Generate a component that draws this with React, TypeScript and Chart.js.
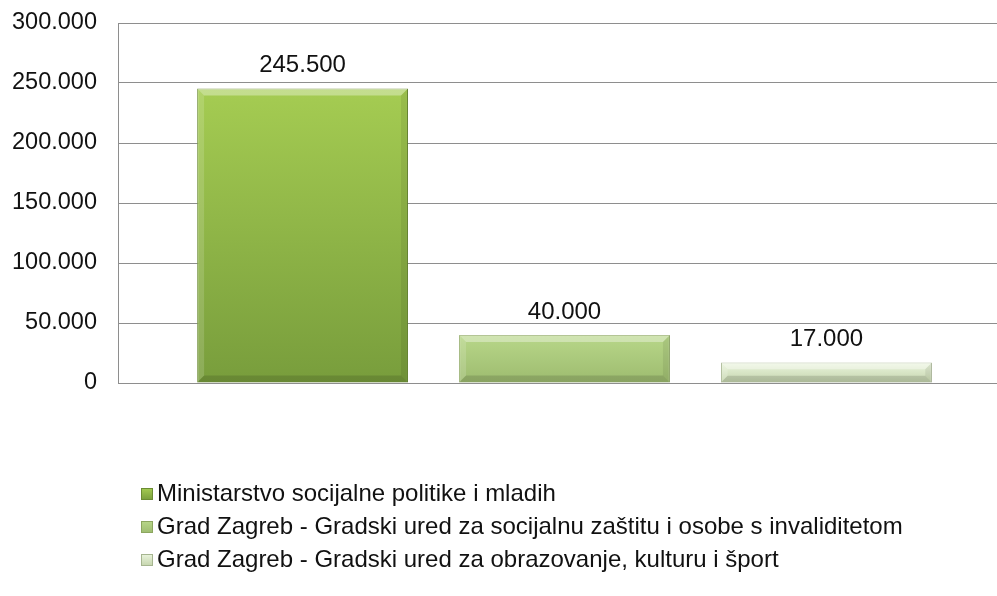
import React, { useEffect, useRef } from "react";
import { Chart, registerables } from "chart.js";

Chart.register(...registerables);

const categories = [""];
const seriesLabels = [
  "Ministarstvo socijalne politike i mladih",
  "Grad Zagreb - Gradski ured za socijalnu zaštitu i osobe s invaliditetom",
  "Grad Zagreb - Gradski ured za obrazovanje, kulturu i šport",
];
const seriesValues = [245500, 40000, 17000];
const yMin = 0;
const yMax = 300000;
const yStep = 50000;

const topColors = ["#a5cc52", "#b8d789", "#ebf5de"];
const bottomColors = ["#789d3c", "#9dbb6f", "#c4d4ac"];
const borderColors = ["#6b8c34", "#8ca65f", "#a6b590"];

const FONT = '"Liberation Sans", Arial, sans-serif';

function fmt(v: number): string {
  const s = Math.round(v).toString();
  return s.replace(/\B(?=(\d{3})+(?!\d))/g, ".");
}

function makeGradient(ctx: CanvasRenderingContext2D, top: number, bottom: number, i: number) {
  const g = ctx.createLinearGradient(0, top, 0, bottom);
  g.addColorStop(0, topColors[i]);
  g.addColorStop(1, bottomColors[i]);
  return g;
}

const bevelPlugin = {
  id: "bevelAndLabels",
  afterDatasetsDraw(chart: any) {
    const ctx: CanvasRenderingContext2D = chart.ctx;
    chart.data.datasets.forEach((ds: any, di: number) => {
      const meta = chart.getDatasetMeta(di);
      meta.data.forEach((el: any, idx: number) => {
        const { x, y, base, width } = el.getProps(["x", "y", "base", "width"], true);
        const left = x - width / 2;
        const right = x + width / 2;
        const top = Math.min(y, base);
        const bottom = Math.max(y, base);
        const h = bottom - top;
        const b = Math.min(7, h / 3);
        ctx.save();
        ctx.fillStyle = "rgba(255,255,255,0.35)";
        ctx.beginPath();
        ctx.moveTo(left, top);
        ctx.lineTo(right, top);
        ctx.lineTo(right - b, top + b);
        ctx.lineTo(left + b, top + b);
        ctx.closePath();
        ctx.fill();
        ctx.fillStyle = "rgba(255,255,255,0.15)";
        ctx.beginPath();
        ctx.moveTo(left, top);
        ctx.lineTo(left + b, top + b);
        ctx.lineTo(left + b, bottom - b);
        ctx.lineTo(left, bottom);
        ctx.closePath();
        ctx.fill();
        ctx.fillStyle = "rgba(0,0,0,0.07)";
        ctx.beginPath();
        ctx.moveTo(right, top);
        ctx.lineTo(right - b, top + b);
        ctx.lineTo(right - b, bottom - b);
        ctx.lineTo(right, bottom);
        ctx.closePath();
        ctx.fill();
        ctx.fillStyle = "rgba(0,0,0,0.13)";
        ctx.beginPath();
        ctx.moveTo(left, bottom);
        ctx.lineTo(right, bottom);
        ctx.lineTo(right - b, bottom - b);
        ctx.lineTo(left + b, bottom - b);
        ctx.closePath();
        ctx.fill();
        const v = ds.data[idx];
        ctx.fillStyle = "#111";
        ctx.font = `24px ${FONT}`;
        ctx.textAlign = "center";
        ctx.textBaseline = "middle";
        ctx.fillText(fmt(v), x, top - 23);
        ctx.restore();
      });
    });
  },
};

const legendPlugin = {
  id: "verticalLegend",
  afterDraw(chart: any) {
    const ctx: CanvasRenderingContext2D = chart.ctx;
    const x0 = 141;
    const y0 = 494;
    const rowH = 33;
    const box = 12;
    ctx.save();
    chart.data.datasets.forEach((ds: any, i: number) => {
      const cy = y0 + i * rowH;
      const by = cy - box / 2;
      ctx.fillStyle = makeGradient(ctx, by, by + box, i);
      ctx.fillRect(x0, by, box, box);
      ctx.strokeStyle = borderColors[i];
      ctx.lineWidth = 1;
      ctx.strokeRect(x0 + 0.5, by + 0.5, box - 1, box - 1);
      ctx.fillStyle = "#111";
      ctx.font = `24px ${FONT}`;
      ctx.textAlign = "left";
      ctx.textBaseline = "middle";
      ctx.fillText(ds.label, x0 + box + 4, cy);
    });
    ctx.restore();
  },
};

export default function App() {
  const ref = useRef<HTMLCanvasElement | null>(null);

  useEffect(() => {
    if (!ref.current) return;
    const chart = new Chart(ref.current, {
      type: "bar",
      data: {
        labels: categories,
        datasets: seriesLabels.map((label, i) => ({
          label,
          data: [seriesValues[i]],
          backgroundColor: (c: any) => {
            const ch = c.chart;
            const ys = ch.scales && ch.scales.y;
            if (!ys || c.raw == null) return topColors[i];
            const t = ys.getPixelForValue(c.raw);
            const bt = ys.getPixelForValue(0);
            if (!isFinite(t) || !isFinite(bt)) return topColors[i];
            return makeGradient(ch.ctx, t, bt, i);
          },
          borderColor: borderColors[i],
          borderWidth: 1,
          categoryPercentage: 0.88,
          barPercentage: 0.805,
        })),
      },
      options: {
        responsive: false,
        animation: false,
        layout: { padding: { top: 23, bottom: 213, left: 0, right: 0 } },
        plugins: {
          legend: { display: false },
          tooltip: { enabled: false },
        },
        scales: {
          x: { display: false },
          y: {
            min: yMin,
            max: yMax,
            afterFit: (s: any) => {
              s.width = 118;
            },
            ticks: {
              stepSize: yStep,
              padding: 0,
              color: "#111",
              font: { family: FONT, size: 23.5 },
              callback: (v: any) => fmt(Number(v)),
            },
            grid: {
              color: "#8e8e8e",
              lineWidth: 1,
              drawTicks: true,
              tickLength: 21,
              tickColor: "rgba(0,0,0,0)",
            },
            border: { display: true, color: "#8e8e8e", width: 1 },
          },
        },
      },
      plugins: [bevelPlugin, legendPlugin],
    });
    return () => chart.destroy();
  }, []);

  return (
    <div
      style={{
        position: "fixed",
        left: 0,
        top: 0,
        width: 997,
        height: 596,
        overflow: "hidden",
        background: "#fff",
      }}
    >
      <canvas ref={ref} width={1011} height={596} style={{ display: "block", width: 1011, height: 596 }} />
    </div>
  );
}
